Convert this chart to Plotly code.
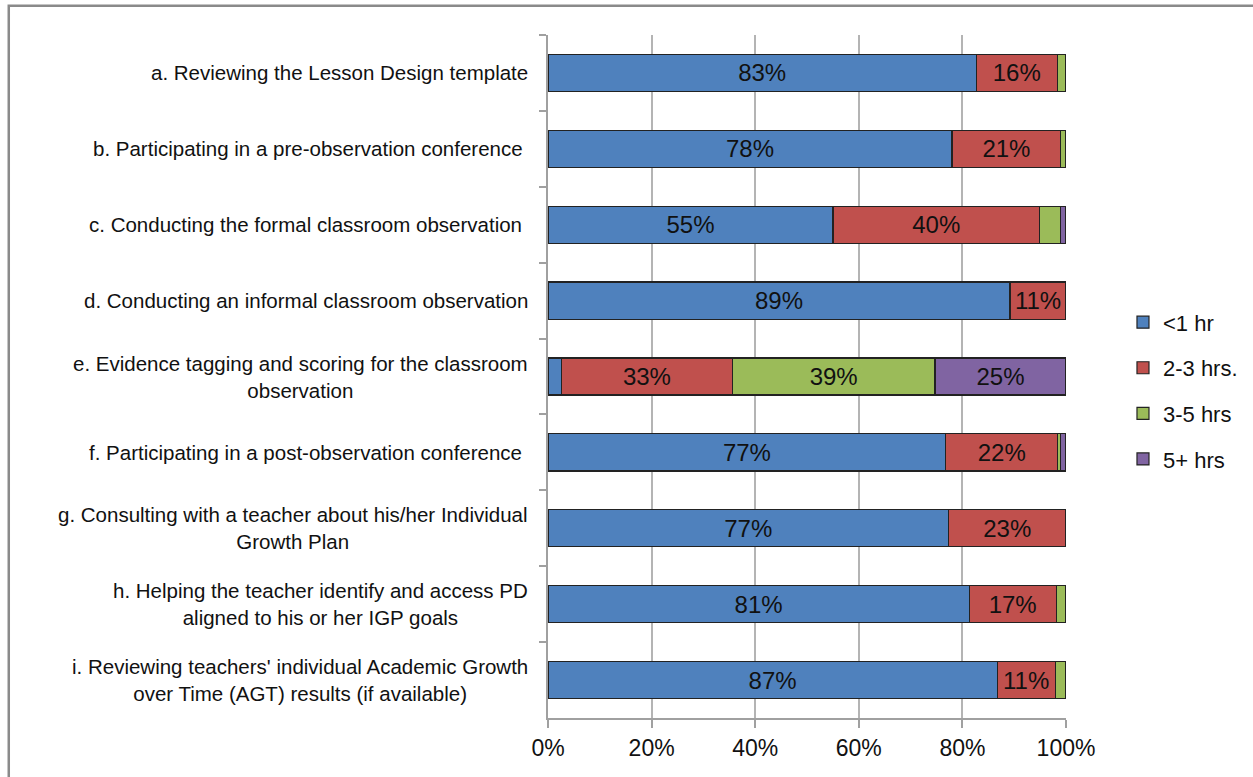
import plotly.graph_objects as go

# Survey items (top to bottom)
categories = [
    "a. Reviewing the Lesson Design template",
    "b. Participating in a pre-observation conference\u00a0",
    "c. Conducting the formal classroom observation\u00a0",
    "d. Conducting an informal classroom observation",
    "e. Evidence tagging and scoring for the classroom<br>observation",
    "f. Participating in a post-observation conference\u00a0",
    "g. Consulting with a teacher about his/her Individual<br>Growth Plan",
    "h. Helping the teacher identify and access PD<br>aligned to his or her IGP goals",
    "i. Reviewing teachers' individual Academic Growth<br>over Time (AGT) results (if available)",
]
keys = list("abcdefghi")

# Share of respondents (%) per time band
lt_1hr = [82.7, 78.0, 55.0, 89.2, 2.6, 76.8, 77.3, 81.3, 86.7]
hrs_2_3 = [15.6, 21.0, 39.9, 10.8, 33.0, 21.6, 22.7, 16.8, 11.2]
hrs_3_5 = [1.7, 1.0, 4.1, 0.0, 39.1, 0.6, 0.0, 1.9, 2.1]
hrs_5p = [0.0, 0.0, 1.0, 0.0, 25.3, 1.0, 0.0, 0.0, 0.0]

series = [
    ("<1 hr", lt_1hr, "#4F81BD"),
    ("2-3 hrs.", hrs_2_3, "#C0504D"),
    ("3-5 hrs", hrs_3_5, "#9BBB59"),
    ("5+ hrs", hrs_5p, "#8064A2"),
]
x_ticks = [0, 20, 40, 60, 80, 100]
x_tick_text = [f"{t}%" for t in x_ticks]

FONT = "Liberation Sans, Arial, sans-serif"

fig = go.Figure()
for i, (name, vals, color) in enumerate(series):
    labels = [f"{round(v)}%" if v >= 10 else "" for v in vals]
    fig.add_trace(go.Bar(
        y=keys, x=vals, name=name, orientation="h",
        marker=dict(color=color, line=dict(color="#222222", width=1.2)),
        text=labels, textposition="inside", insidetextanchor="middle",
        textangle=0, constraintext="none",
        textfont=dict(family=FONT, size=24, color="#111111"),
        legendgroup=f"g{i}", hoverinfo="skip",
    ))

# Category labels, centred line-by-line and right-aligned to the axis
for k, label in zip(keys, categories):
    fig.add_annotation(
        x=0, xref="paper", y=k, yref="y", text=label,
        xanchor="right", yanchor="middle", align="center",
        xshift=-18, showarrow=False,
        font=dict(family=FONT, size=20.5, color="#111111"),
    )

# Outer frame of the chart area
fig.add_shape(type="rect", xref="paper", yref="paper",
              x0=-1.041, x1=1.5, y0=-0.2, y1=1.043,
              line=dict(color="#8a8a8a", width=2.5), fillcolor="rgba(0,0,0,0)")

fig.update_layout(
    width=1253, height=777,
    margin=dict(l=548, r=187, t=35, b=59, autoexpand=False),
    barmode="stack", bargap=0.51,
    paper_bgcolor="white", plot_bgcolor="white",
    font=dict(family=FONT, color="#111111"),
    showlegend=True,
    legend=dict(
        x=1.11, xanchor="left", y=0.479, yanchor="middle",
        traceorder="grouped", tracegroupgap=14,
        font=dict(family=FONT, size=22, color="#111111"),
        bgcolor="rgba(0,0,0,0)",
    ),
    xaxis=dict(
        range=[0, 100], tickmode="array", tickvals=x_ticks, ticktext=x_tick_text,
        showgrid=True, gridcolor="#b4b4b4", gridwidth=1.5,
        showline=True, linecolor="#a0a0a0", linewidth=2,
        ticks="outside", ticklen=8, tickcolor="#a0a0a0", tickwidth=1.5,
        tickfont=dict(family=FONT, size=23, color="#111111"),
        zeroline=False, fixedrange=True,
    ),
    yaxis=dict(
        categoryorder="array", categoryarray=keys, autorange="reversed",
        showticklabels=False, showgrid=False,
        showline=True, linecolor="#a0a0a0", linewidth=2,
        ticks="outside", tickson="boundaries", ticklen=7,
        tickcolor="#a0a0a0", tickwidth=1.5, fixedrange=True,
    ),
)

fig.write_html("out.html")
